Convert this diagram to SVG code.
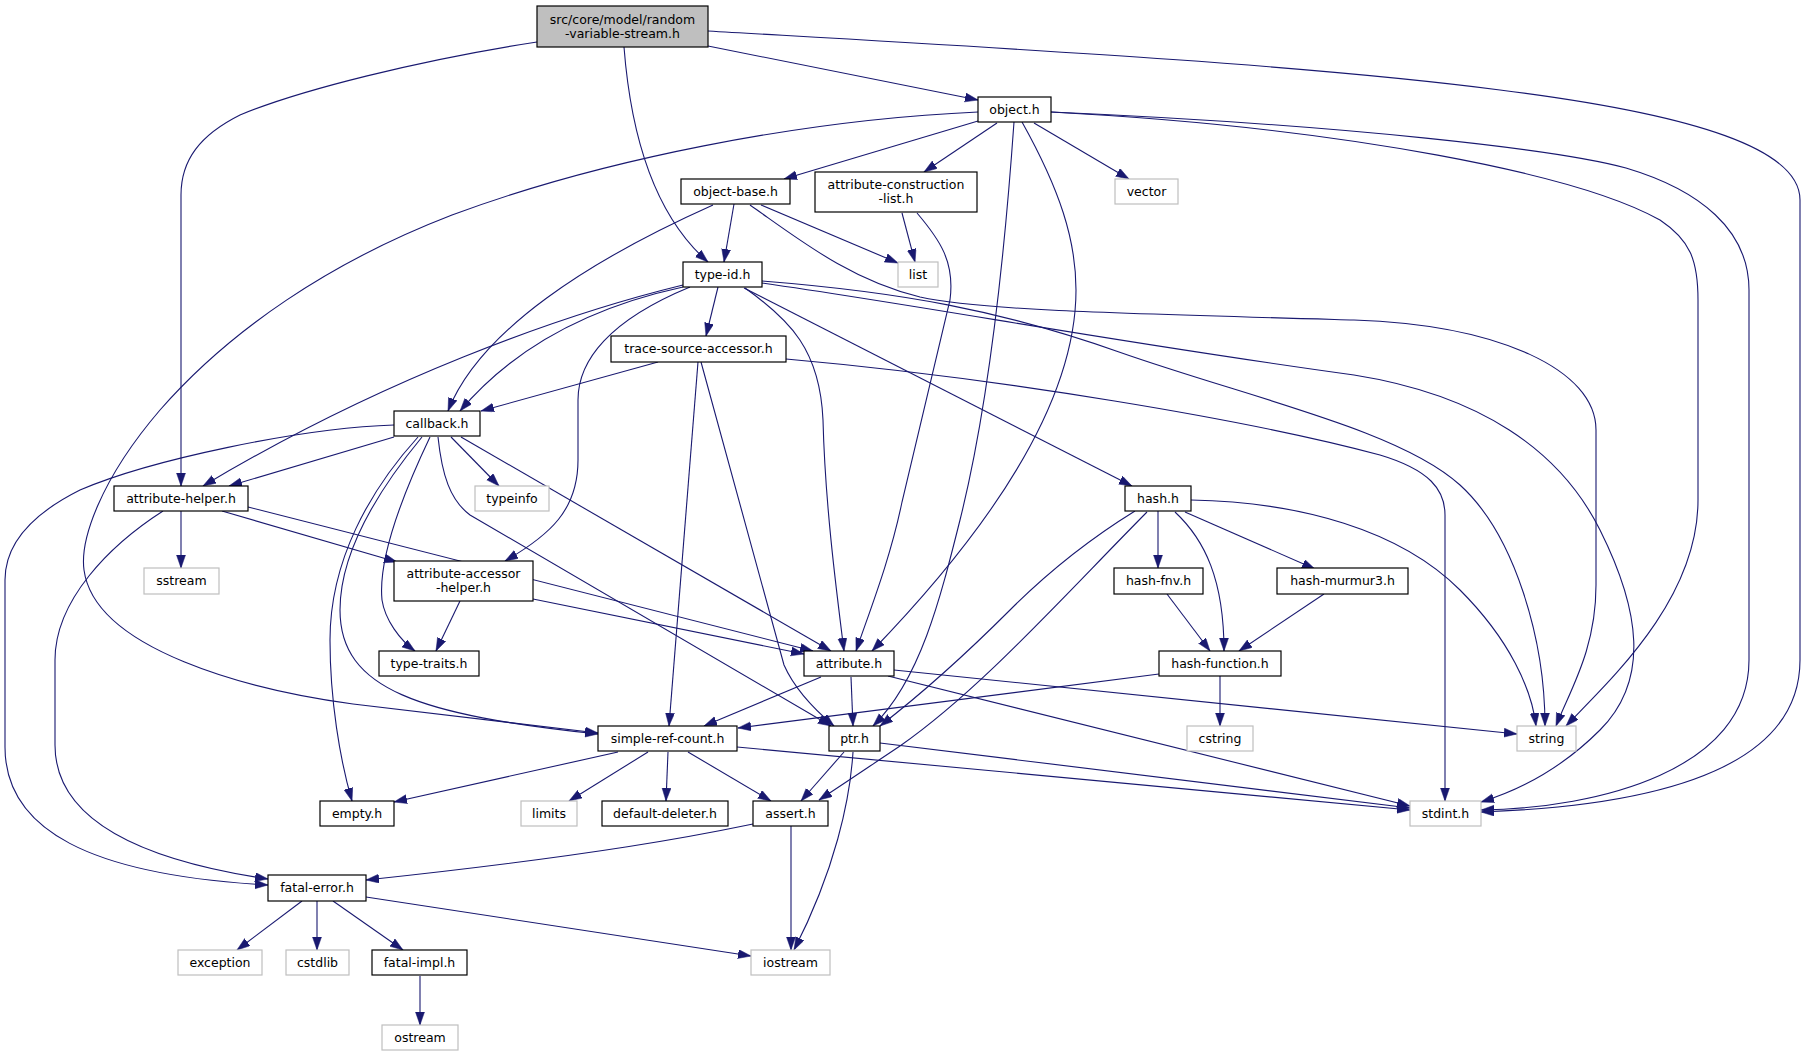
<svg xmlns="http://www.w3.org/2000/svg" width="1805" height="1056" viewBox="0 0 1805 1056">
<style>
.e{fill:none;stroke:#191970;stroke-width:1.1;marker-end:url(#a)}
.n rect{fill:#fff;stroke:#000;stroke-width:1.2}
.x rect{fill:#fff;stroke:#bfbfbf;stroke-width:1.2}
.r rect{fill:#bfbfbf;stroke:#000;stroke-width:1.2}
text{font-family:"DejaVu Sans",sans-serif;font-size:12.5px;text-anchor:middle;fill:#000}
</style>
<defs>
<marker id="a" markerUnits="userSpaceOnUse" markerWidth="14" markerHeight="10" refX="13" refY="4.5" orient="auto">
<path d="M0,0 L13,4.5 L0,9 z" fill="#191970" stroke="#191970" stroke-width="0.5"/>
</marker>
</defs>
<rect width="1805" height="1056" fill="#fff"/>
<g id="edges">
<path class="e" d="M537,42 C420,60 300,90 240,115 C200,135 181,160 181,195 L181,486"/>
<path class="e" d="M624,47 C632,150 660,220 708,262"/>
<path class="e" d="M708,46 L978,100"/>
<path class="e" d="M708,31 C1000,48 1300,64 1500,90 C1700,115 1800,150 1800,200 L1800,660 C1800,760 1680,805 1481,812"/>
<path class="e" d="M978,121 L784,179"/>
<path class="e" d="M997,123 L924,172"/>
<path class="e" d="M1034,123 L1129,179"/>
<path class="e" d="M978,112 C800,120 600,160 452,215 C330,262 230,330 160,410 C100,480 80,540 84,570 C95,650 250,690 353,704 L598,733"/>
<path class="e" d="M1014,122 C1005,250 990,400 960,520 C940,600 920,680 873,726"/>
<path class="e" d="M1022,122 C1060,190 1076,240 1076,290 C1076,420 960,560 872,651"/>
<path class="e" d="M1051,112 C1350,128 1580,175 1660,220 C1690,240 1698,260 1698,300 L1698,500 C1698,600 1610,680 1566,726"/>
<path class="e" d="M1051,112 C1350,125 1560,150 1626,168 C1700,190 1749,230 1749,290 L1749,660 C1749,770 1600,808 1481,810"/>
<path class="e" d="M734,204 L724,262"/>
<path class="e" d="M761,205 L898,263"/>
<path class="e" d="M713,205 C590,260 480,330 448,411"/>
<path class="e" d="M750,205 C800,240 850,280 920,297 C980,310 1100,313 1354,320 C1500,325 1596,370 1596,430 L1596,585 C1596,650 1570,690 1556,726"/>
<path class="e" d="M902,213 L915,262"/>
<path class="e" d="M917,213 C940,240 955,262 950,300 L902,502 C890,560 870,610 856,651"/>
<path class="e" d="M718,287 L706,336"/>
<path class="e" d="M683,285 C560,315 380,380 203,486"/>
<path class="e" d="M683,287 C600,305 520,340 460,411"/>
<path class="e" d="M690,287 C610,320 578,360 578,400 L578,460 C578,510 550,535 505,561"/>
<path class="e" d="M745,288 C790,320 820,350 823,420 C825,500 835,580 844,651"/>
<path class="e" d="M744,288 L1132,486"/>
<path class="e" d="M762,281 C900,292 1000,310 1119,352 C1250,398 1400,430 1460,485 C1515,535 1545,640 1545,726"/>
<path class="e" d="M762,283 C950,310 1100,340 1354,375 C1480,395 1560,450 1600,530 C1640,610 1650,680 1600,730 C1560,770 1520,790 1481,802"/>
<path class="e" d="M658,362 L481,411"/>
<path class="e" d="M698,362 L669,726"/>
<path class="e" d="M701,362 L784,665 C795,690 815,710 834,726"/>
<path class="e" d="M786,359 C1000,378 1250,420 1380,455 C1430,470 1445,490 1445,515 L1445,801"/>
<path class="e" d="M394,437 L229,486"/>
<path class="e" d="M394,425 C300,428 150,460 80,490 C30,515 5,545 5,580 L5,747 C5,830 90,875 268,885"/>
<path class="e" d="M451,437 L499,486"/>
<path class="e" d="M461,437 L831,651"/>
<path class="e" d="M430,437 C400,500 378,560 382,600 C385,620 400,640 415,651"/>
<path class="e" d="M422,437 C370,500 340,560 340,610 C340,690 420,715 598,734"/>
<path class="e" d="M418,437 C370,490 330,560 330,640 C330,700 340,760 352,801"/>
<path class="e" d="M438,437 C442,475 450,500 470,515 L831,726"/>
<path class="e" d="M181,511 L181,568"/>
<path class="e" d="M222,511 L397,562"/>
<path class="e" d="M248,507 L813,651"/>
<path class="e" d="M163,511 C110,545 55,600 55,660 L55,745 C55,820 140,860 268,879"/>
<path class="e" d="M460,601 L436,651"/>
<path class="e" d="M533,599 L804,654"/>
<path class="e" d="M1158,511 L1158,568"/>
<path class="e" d="M1185,512 L1315,569"/>
<path class="e" d="M1175,512 C1205,540 1224,580 1224,651"/>
<path class="e" d="M1191,500 C1300,502 1400,530 1460,590 C1510,640 1532,690 1536,726"/>
<path class="e" d="M1135,511 C1080,545 1040,580 1010,610 C960,660 920,695 880,726"/>
<path class="e" d="M1147,512 C1060,600 980,690 900,746 C870,766 845,783 819,800"/>
<path class="e" d="M1167,594 L1210,651"/>
<path class="e" d="M1324,594 L1239,651"/>
<path class="e" d="M1159,674 L738,728"/>
<path class="e" d="M1220,676 L1220,726"/>
<path class="e" d="M821,677 L704,726"/>
<path class="e" d="M851,677 L853,726"/>
<path class="e" d="M888,676 L1410,806"/>
<path class="e" d="M894,670 L1517,734"/>
<path class="e" d="M618,752 L394,802"/>
<path class="e" d="M648,752 L569,801"/>
<path class="e" d="M668,752 L666,801"/>
<path class="e" d="M688,752 L771,801"/>
<path class="e" d="M737,747 L1410,810"/>
<path class="e" d="M844,752 L801,801"/>
<path class="e" d="M853,752 C850,800 835,870 794,950"/>
<path class="e" d="M880,743 L1410,808"/>
<path class="e" d="M791,826 L791,950"/>
<path class="e" d="M753,824 C700,835 600,855 366,880"/>
<path class="e" d="M302,901 L237,950"/>
<path class="e" d="M317,901 L317,950"/>
<path class="e" d="M333,901 L403,950"/>
<path class="e" d="M366,897 L751,956"/>
<path class="e" d="M420,976 L420,1025"/>
</g>
<g id="n-rvs" class="r"><rect x="537" y="6" width="171" height="41"/><text x="622.5" y="23.5">src/core/model/random</text><text x="622.5" y="37.5">-variable-stream.h</text></g>
<g id="n-object" class="n"><rect x="978" y="97" width="73" height="25"/><text x="1014.5" y="114">object.h</text></g>
<g id="n-object-base" class="n"><rect x="681" y="179" width="109" height="25"/><text x="735.5" y="196">object-base.h</text></g>
<g id="n-attr-constr" class="n"><rect x="815" y="172" width="162" height="40"/><text x="896" y="188.5">attribute-construction</text><text x="896" y="203">-list.h</text></g>
<g id="n-vector" class="x"><rect x="1115" y="179" width="63" height="25"/><text x="1146.5" y="196">vector</text></g>
<g id="n-list" class="x"><rect x="898" y="262" width="40" height="25"/><text x="918" y="279">list</text></g>
<g id="n-type-id" class="n"><rect x="683" y="262" width="79" height="25"/><text x="722.5" y="279">type-id.h</text></g>
<g id="n-trace" class="n"><rect x="611" y="336" width="175" height="26"/><text x="698.5" y="353">trace-source-accessor.h</text></g>
<g id="n-callback" class="n"><rect x="394" y="411" width="86" height="25"/><text x="437" y="428">callback.h</text></g>
<g id="n-attr-helper" class="n"><rect x="114" y="486" width="134" height="25"/><text x="181" y="503">attribute-helper.h</text></g>
<g id="n-typeinfo" class="x"><rect x="475" y="486" width="74" height="25"/><text x="512" y="503">typeinfo</text></g>
<g id="n-hash" class="n"><rect x="1125" y="486" width="66" height="25"/><text x="1158" y="503">hash.h</text></g>
<g id="n-sstream" class="x"><rect x="144" y="568" width="75" height="26"/><text x="181.5" y="585">sstream</text></g>
<g id="n-attr-acc" class="n"><rect x="394" y="561" width="139" height="40"/><text x="463.5" y="577.5">attribute-accessor</text><text x="463.5" y="592">-helper.h</text></g>
<g id="n-hash-fnv" class="n"><rect x="1114" y="568" width="89" height="26"/><text x="1158.5" y="585">hash-fnv.h</text></g>
<g id="n-hash-murmur3" class="n"><rect x="1277" y="568" width="131" height="26"/><text x="1342.5" y="585">hash-murmur3.h</text></g>
<g id="n-type-traits" class="n"><rect x="379" y="651" width="100" height="25"/><text x="429" y="668">type-traits.h</text></g>
<g id="n-attribute" class="n"><rect x="804" y="651" width="90" height="25"/><text x="849" y="668">attribute.h</text></g>
<g id="n-hash-function" class="n"><rect x="1159" y="651" width="122" height="25"/><text x="1220" y="668">hash-function.h</text></g>
<g id="n-simple-ref" class="n"><rect x="598" y="726" width="139" height="25"/><text x="667.5" y="743">simple-ref-count.h</text></g>
<g id="n-ptr" class="n"><rect x="829" y="726" width="51" height="25"/><text x="854.5" y="743">ptr.h</text></g>
<g id="n-cstring" class="x"><rect x="1187" y="726" width="66" height="25"/><text x="1220" y="743">cstring</text></g>
<g id="n-string" class="x"><rect x="1517" y="726" width="59" height="25"/><text x="1546.5" y="743">string</text></g>
<g id="n-empty" class="n"><rect x="320" y="801" width="74" height="25"/><text x="357" y="818">empty.h</text></g>
<g id="n-limits" class="x"><rect x="521" y="801" width="56" height="25"/><text x="549" y="818">limits</text></g>
<g id="n-default-deleter" class="n"><rect x="602" y="801" width="126" height="25"/><text x="665" y="818">default-deleter.h</text></g>
<g id="n-assert" class="n"><rect x="753" y="801" width="75" height="25"/><text x="790.5" y="818">assert.h</text></g>
<g id="n-stdint" class="x"><rect x="1410" y="801" width="71" height="25"/><text x="1445.5" y="818">stdint.h</text></g>
<g id="n-fatal-error" class="n"><rect x="268" y="875" width="98" height="26"/><text x="317" y="892">fatal-error.h</text></g>
<g id="n-exception" class="x"><rect x="178" y="950" width="84" height="25"/><text x="220" y="967">exception</text></g>
<g id="n-cstdlib" class="x"><rect x="286" y="950" width="63" height="25"/><text x="317.5" y="967">cstdlib</text></g>
<g id="n-fatal-impl" class="n"><rect x="372" y="950" width="95" height="25"/><text x="419.5" y="967">fatal-impl.h</text></g>
<g id="n-iostream" class="x"><rect x="751" y="950" width="79" height="25"/><text x="790.5" y="967">iostream</text></g>
<g id="n-ostream" class="x"><rect x="382" y="1025" width="76" height="25"/><text x="420" y="1042">ostream</text></g>
</svg>
